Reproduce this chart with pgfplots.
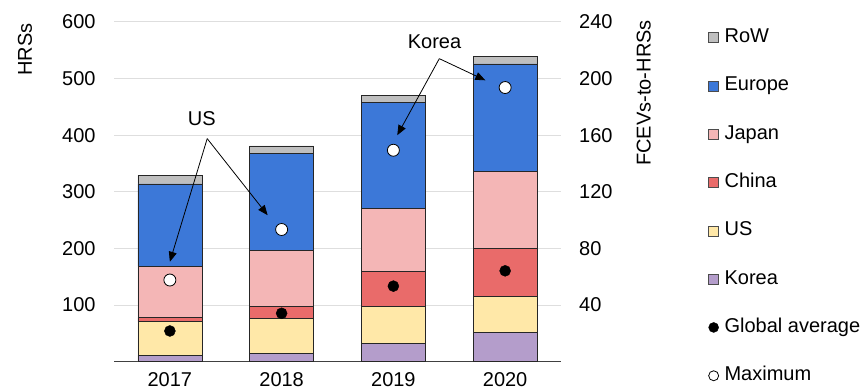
\documentclass[border=0pt]{standalone}
\usepackage{pgfplots}
\pgfplotsset{compat=1.18}
\usepackage{fontspec}
\setmainfont{Liberation Sans}
\usetikzlibrary{arrows.meta}
\definecolor{cRoW}{HTML}{BFBFBF}
\definecolor{cEur}{HTML}{3C78D8}
\definecolor{cJap}{HTML}{F4B6B6}
\definecolor{cChi}{HTML}{E96B6A}
\definecolor{cUS}{HTML}{FFE8A8}
\definecolor{cKor}{HTML}{B49DCB}
\definecolor{cGrid}{HTML}{DEDEDE}
\newcommand{\ff}{\fontsize{20bp}{24bp}\selectfont}
\pgfplotsset{
  mybox/.style={legend image code/.code={\draw[##1,line width=0.7bp] (0bp,-5bp) rectangle (10bp,5bp);}},
  mydot/.style={legend image code/.code={\draw[##1] (5bp,0bp) circle (5bp);}},
}
\begin{document}
\begin{tikzpicture}
\useasboundingbox (0,0) rectangle (865bp,388bp);
\begin{axis}[
  at={(114bp,26.3bp)}, anchor=south west,
  scale only axis, width=447bp, height=339.7bp,
  xmin=-0.5, xmax=3.5, ymin=0, ymax=600,
  ybar stacked, bar width=64bp,
  axis x line*=bottom, axis y line*=left,
  y axis line style={draw=none},
  x axis line style={line width=1.5bp, draw=black!75, -},
  major tick length=0pt,
  xtick={0,1,2,3}, xticklabels={2017,2018,2019,2020},
  ytick={100,200,300,400,500,600},
  ymajorgrids, grid style={cGrid, line width=1bp},
  /pgf/number format/assume math mode=true,
  tick label style={font=\ff, inner sep=0pt},
  xticklabel style={yshift=-10.5bp},
  yticklabel style={xshift=-18.3bp},
  ylabel={HRSs},
  ylabel style={font=\ff, inner sep=0pt, at={(rel axis cs:-0.199,0.996)}, anchor=east},
  every axis plot/.append style={draw=black!85, line width=0.75bp},
]
\addplot[fill=cKor] coordinates {(0,11) (1,14) (2,33) (3,52)};
\addplot[fill=cUS]  coordinates {(0,60) (1,63) (2,65) (3,63)};
\addplot[fill=cChi] coordinates {(0,7) (1,20) (2,61) (3,85)};
\addplot[fill=cJap] coordinates {(0,91) (1,100) (2,112) (3,136)};
\addplot[fill=cEur] coordinates {(0,145) (1,171) (2,187) (3,190)};
\addplot[fill=cRoW] coordinates {(0,15) (1,13) (2,12) (3,13)};
\end{axis}
\begin{axis}[
  at={(114bp,26.3bp)}, anchor=south west,
  scale only axis, width=447bp, height=339.7bp,
  xmin=-0.5, xmax=3.5, ymin=0, ymax=240,
  axis x line=none, axis y line*=right,
  y axis line style={draw=none},
  major tick length=0pt,
  ytick={40,80,120,160,200,240},
  /pgf/number format/assume math mode=true,
  tick label style={font=\ff, inner sep=0pt},
  yticklabel style={xshift=18bp},
  ylabel={FCEVs-to-HRSs},
  ylabel style={font=\ff, inner sep=0pt, at={(rel axis cs:1.185,1.006)}, anchor=east},
  legend style={at={(1.329,0.981)}, anchor=north west, draw=none, fill=none,
    inner sep=0pt, font=\ff, row sep=30.3bp, column sep=5.5bp,
    nodes={inner sep=0pt, text height=14bp, text depth=4bp}},
  legend cell align=left,
]
\addlegendimage{mybox, fill=cRoW, draw=black!70}
\addlegendentry{RoW}
\addlegendimage{mybox, fill=cEur, draw=black!70}
\addlegendentry{Europe}
\addlegendimage{mybox, fill=cJap, draw=black!70}
\addlegendentry{Japan}
\addlegendimage{mybox, fill=cChi, draw=black!70}
\addlegendentry{China}
\addlegendimage{mybox, fill=cUS, draw=black!70}
\addlegendentry{US}
\addlegendimage{mybox, fill=cKor, draw=black!70}
\addlegendentry{Korea}
\addplot[only marks, mark=*, mark size=5.5bp, mark options={fill=black, draw=black}, mydot, fill=black, draw=black]
  coordinates {(0,21.7) (1,34.2) (2,53.4) (3,64.2)};
\addlegendentry{Global average}
\addplot[only marks, mark=*, mark size=6bp, mark options={fill=white, draw=black, line width=0.8bp}, mydot, fill=white, draw=black, line width=0.8bp]
  coordinates {(0,57.7) (1,93.4) (2,149.4) (3,193.7)};
\addlegendentry{Maximum}
\node[font=\ff, inner sep=0pt] at (axis cs:0.285,172) {US};
\node[font=\ff, inner sep=0pt] at (axis cs:2.368,226.4) {Korea};
\draw[line width=0.8bp, -{Triangle[length=10bp,width=8bp]}] (axis cs:0.334,157.6) -- (axis cs:0,70.6);
\draw[line width=0.8bp, -{Triangle[length=10bp,width=8bp]}] (axis cs:0.334,157.6) -- (axis cs:0.875,103.5);
\draw[line width=0.8bp, -{Triangle[length=10bp,width=8bp]}] (axis cs:2.411,214.1) -- (axis cs:2.035,160);
\draw[line width=0.8bp, -{Triangle[length=10bp,width=8bp]}] (axis cs:2.411,214.1) -- (axis cs:2.823,198.8);
\end{axis}
\end{tikzpicture}
\end{document}
